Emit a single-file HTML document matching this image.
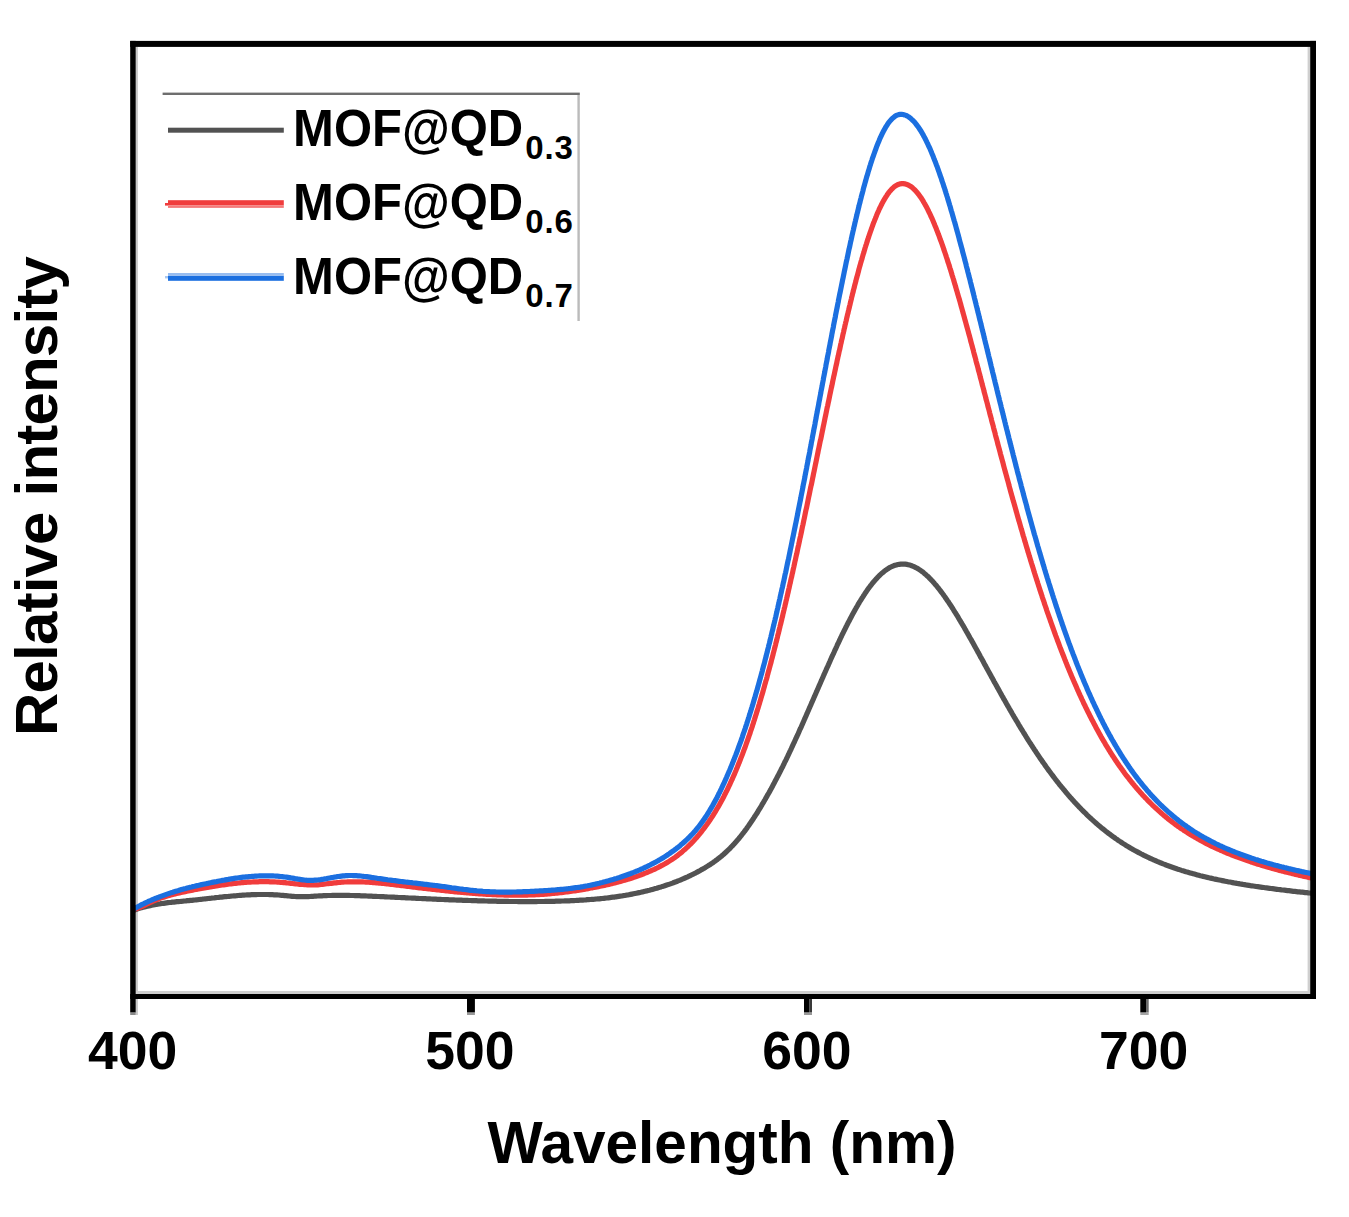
<!DOCTYPE html>
<html><head><meta charset="utf-8">
<style>
html,body{margin:0;padding:0;background:#fff;}
body{width:1349px;height:1217px;overflow:hidden;position:relative;}
svg{position:absolute;left:0;top:0;}
text{font-family:"Liberation Sans",sans-serif;font-weight:bold;fill:#000;}
</style></head>
<body>
<svg width="1349" height="1217" viewBox="0 0 1349 1217">
<rect x="0" y="0" width="1349" height="1217" fill="#fff"/>
<!-- inner light strips -->
<rect x="135.7" y="47" width="2.2" height="968" fill="#c8c8c8"/>
<rect x="1307.6" y="47" width="2.6" height="947" fill="#cfcfcf"/>
<rect x="135.7" y="991" width="1174.5" height="3" fill="#cfcfcf"/>
<!-- curves -->
<g fill="none" stroke-width="5.2" stroke-linejoin="round" stroke-linecap="butt">
<path d="M133.0 910.5 L134.4 910.0 L135.8 909.5 L137.2 909.0 L138.7 908.6 L140.1 908.1 L141.6 907.7 L143.0 907.3 L144.4 906.9 L145.9 906.6 L147.4 906.2 L148.8 905.9 L150.3 905.6 L151.7 905.3 L153.2 905.0 L154.7 904.7 L156.2 904.5 L157.6 904.2 L159.1 904.0 L160.6 903.7 L162.1 903.5 L163.6 903.3 L165.1 903.1 L166.5 902.9 L168.0 902.7 L169.5 902.5 L171.0 902.4 L172.5 902.2 L174.0 902.1 L175.5 901.9 L177.0 901.7 L178.5 901.6 L180.0 901.5 L181.5 901.3 L182.9 901.2 L184.4 901.0 L185.9 900.9 L187.4 900.7 L188.9 900.6 L190.4 900.4 L191.9 900.3 L193.4 900.1 L194.9 900.0 L196.4 899.8 L197.9 899.7 L199.4 899.5 L200.9 899.3 L202.3 899.2 L203.8 899.0 L205.3 898.8 L206.8 898.7 L208.3 898.5 L209.8 898.3 L211.3 898.2 L212.8 898.0 L214.3 897.9 L215.8 897.7 L217.3 897.5 L218.7 897.4 L220.2 897.2 L221.7 897.1 L223.2 896.9 L224.7 896.7 L226.2 896.6 L227.7 896.5 L229.2 896.3 L230.7 896.2 L232.2 896.0 L233.7 895.9 L235.2 895.8 L236.7 895.7 L238.2 895.5 L239.7 895.4 L241.1 895.3 L242.6 895.2 L244.1 895.1 L245.6 895.0 L247.1 894.9 L248.6 894.9 L250.1 894.8 L251.6 894.7 L253.1 894.7 L254.6 894.6 L256.1 894.6 L257.6 894.5 L259.1 894.5 L260.6 894.5 L262.1 894.5 L263.6 894.5 L265.1 894.5 L266.6 894.5 L268.1 894.5 L269.6 894.6 L271.1 894.6 L272.6 894.7 L274.1 894.8 L275.6 894.8 L277.1 894.9 L278.6 895.0 L280.1 895.2 L281.6 895.3 L283.1 895.4 L284.6 895.6 L286.1 895.7 L287.6 895.8 L289.1 896.0 L290.6 896.1 L292.1 896.3 L293.6 896.4 L295.1 896.5 L296.5 896.6 L298.0 896.7 L299.5 896.7 L301.0 896.7 L302.5 896.7 L304.0 896.7 L305.5 896.7 L307.0 896.6 L308.5 896.6 L310.0 896.5 L311.5 896.4 L313.0 896.3 L314.5 896.2 L316.0 896.1 L317.5 896.0 L319.0 895.9 L320.5 895.9 L322.0 895.8 L323.5 895.7 L325.0 895.6 L326.5 895.6 L328.0 895.5 L329.5 895.5 L331.0 895.5 L332.5 895.4 L334.0 895.4 L335.5 895.4 L337.0 895.4 L338.5 895.4 L340.0 895.4 L341.5 895.4 L343.0 895.4 L344.5 895.4 L346.0 895.4 L347.5 895.4 L349.0 895.4 L350.5 895.5 L352.0 895.5 L353.5 895.5 L355.0 895.6 L356.5 895.6 L358.0 895.7 L359.5 895.7 L361.0 895.8 L362.5 895.8 L364.0 895.9 L365.5 895.9 L367.0 896.0 L368.5 896.1 L370.0 896.1 L371.5 896.2 L373.0 896.3 L374.5 896.3 L376.0 896.4 L377.5 896.5 L379.0 896.5 L380.5 896.6 L382.0 896.7 L383.5 896.7 L385.0 896.8 L386.5 896.9 L388.0 897.0 L389.5 897.0 L391.0 897.1 L392.5 897.2 L394.0 897.2 L395.5 897.3 L397.0 897.4 L398.5 897.5 L400.0 897.5 L401.5 897.6 L403.0 897.7 L404.5 897.7 L406.0 897.8 L407.5 897.9 L409.0 898.0 L410.5 898.0 L412.0 898.1 L413.5 898.2 L414.9 898.2 L416.4 898.3 L417.9 898.4 L419.4 898.5 L420.9 898.5 L422.4 898.6 L423.9 898.7 L425.4 898.7 L426.9 898.8 L428.4 898.9 L429.9 898.9 L431.4 899.0 L432.9 899.1 L434.4 899.1 L435.9 899.2 L437.4 899.3 L438.9 899.3 L440.4 899.4 L441.9 899.5 L443.4 899.5 L444.9 899.6 L446.4 899.6 L447.9 899.7 L449.4 899.8 L450.9 899.8 L452.4 899.9 L453.9 899.9 L455.4 900.0 L456.9 900.1 L458.4 900.1 L459.9 900.2 L461.4 900.2 L462.9 900.3 L464.4 900.3 L465.9 900.4 L467.4 900.4 L468.9 900.5 L470.4 900.5 L471.9 900.6 L473.4 900.6 L474.9 900.7 L476.4 900.7 L477.9 900.8 L479.4 900.8 L480.9 900.9 L482.4 900.9 L483.9 900.9 L485.4 901.0 L486.9 901.0 L488.4 901.1 L489.9 901.1 L491.4 901.1 L492.9 901.2 L494.4 901.2 L495.9 901.2 L497.4 901.3 L498.9 901.3 L500.4 901.3 L501.9 901.3 L503.4 901.4 L504.9 901.4 L506.4 901.4 L507.9 901.4 L509.4 901.5 L510.9 901.5 L512.4 901.5 L513.9 901.5 L515.4 901.5 L516.9 901.5 L518.4 901.6 L519.9 901.6 L521.4 901.6 L522.9 901.6 L524.4 901.6 L525.9 901.6 L527.4 901.6 L528.9 901.6 L530.4 901.6 L531.9 901.6 L533.4 901.6 L534.9 901.6 L536.4 901.6 L537.9 901.5 L539.4 901.5 L540.9 901.5 L542.4 901.5 L543.9 901.5 L545.4 901.4 L546.9 901.4 L548.4 901.4 L549.9 901.4 L551.4 901.3 L552.9 901.3 L554.4 901.3 L555.9 901.2 L557.4 901.2 L558.9 901.1 L560.4 901.1 L561.9 901.0 L563.4 901.0 L564.9 900.9 L566.4 900.9 L567.9 900.8 L569.4 900.8 L570.9 900.7 L572.4 900.6 L573.9 900.6 L575.4 900.5 L576.9 900.4 L578.4 900.3 L579.9 900.2 L581.4 900.1 L582.9 900.1 L584.4 900.0 L585.9 899.9 L587.4 899.7 L588.8 899.6 L590.3 899.5 L591.8 899.4 L593.3 899.3 L594.8 899.2 L596.3 899.0 L597.8 898.9 L599.3 898.8 L600.8 898.6 L602.3 898.5 L603.8 898.3 L605.3 898.1 L606.8 898.0 L608.3 897.8 L609.8 897.6 L611.2 897.4 L612.7 897.2 L614.2 897.1 L615.7 896.8 L617.2 896.6 L618.7 896.4 L620.2 896.2 L621.6 896.0 L623.1 895.7 L624.6 895.5 L626.1 895.2 L627.6 895.0 L629.0 894.7 L630.5 894.4 L632.0 894.1 L633.5 893.8 L634.9 893.5 L636.4 893.2 L637.9 892.9 L639.3 892.6 L640.8 892.3 L642.3 891.9 L643.7 891.6 L645.2 891.2 L646.6 890.9 L648.1 890.5 L649.5 890.2 L651.0 889.8 L652.4 889.4 L653.9 889.0 L655.3 888.6 L656.8 888.2 L658.2 887.7 L659.7 887.3 L661.1 886.9 L662.5 886.4 L664.0 886.0 L665.4 885.5 L666.8 885.0 L668.2 884.6 L669.7 884.1 L671.1 883.6 L672.5 883.1 L673.9 882.5 L675.3 882.0 L676.7 881.5 L678.1 880.9 L679.5 880.4 L680.9 879.8 L682.3 879.2 L683.6 878.6 L685.0 878.0 L686.4 877.4 L687.8 876.8 L689.1 876.1 L690.5 875.5 L691.8 874.8 L693.2 874.2 L694.5 873.5 L695.9 872.8 L697.2 872.1 L698.5 871.4 L699.8 870.7 L701.1 869.9 L702.5 869.2 L703.8 868.4 L705.0 867.7 L706.3 866.9 L707.6 866.1 L708.9 865.3 L710.2 864.5 L711.4 863.7 L712.7 862.8 L713.9 861.9 L715.1 861.1 L716.3 860.2 L717.5 859.3 L718.7 858.3 L719.9 857.4 L721.1 856.5 L722.2 855.5 L723.4 854.5 L724.5 853.5 L725.6 852.5 L726.7 851.5 L727.8 850.4 L728.9 849.4 L730.0 848.3 L731.0 847.2 L732.1 846.2 L733.1 845.1 L734.1 844.0 L735.2 842.8 L736.1 841.7 L737.1 840.6 L738.1 839.4 L739.1 838.3 L740.0 837.1 L741.0 835.9 L741.9 834.7 L742.8 833.5 L743.8 832.3 L744.7 831.1 L745.6 829.9 L746.5 828.7 L747.3 827.5 L748.2 826.3 L749.1 825.0 L749.9 823.8 L750.8 822.5 L751.6 821.3 L752.5 820.0 L753.3 818.8 L754.1 817.5 L754.9 816.3 L755.7 815.0 L756.6 813.7 L757.4 812.5 L758.1 811.2 L758.9 809.9 L759.7 808.6 L760.5 807.3 L761.3 806.0 L762.0 804.7 L762.8 803.4 L763.6 802.1 L764.3 800.8 L765.1 799.5 L765.8 798.2 L766.6 796.9 L767.3 795.6 L768.0 794.3 L768.8 793.0 L769.5 791.7 L770.2 790.4 L771.0 789.0 L771.7 787.7 L772.4 786.4 L773.1 785.1 L773.8 783.8 L774.5 782.4 L775.2 781.1 L775.9 779.8 L776.6 778.4 L777.3 777.1 L778.0 775.8 L778.7 774.4 L779.4 773.1 L780.1 771.8 L780.7 770.4 L781.4 769.1 L782.1 767.7 L782.8 766.4 L783.4 765.0 L784.1 763.7 L784.7 762.3 L785.4 761.0 L786.1 759.6 L786.7 758.3 L787.4 756.9 L788.0 755.6 L788.7 754.2 L789.3 752.8 L789.9 751.5 L790.6 750.1 L791.2 748.8 L791.8 747.4 L792.5 746.0 L793.1 744.7 L793.7 743.3 L794.4 742.0 L795.0 740.6 L795.6 739.2 L796.2 737.9 L796.9 736.5 L797.5 735.1 L798.1 733.8 L798.7 732.4 L799.3 731.0 L799.9 729.6 L800.6 728.3 L801.2 726.9 L801.8 725.5 L802.4 724.2 L803.0 722.8 L803.6 721.4 L804.2 720.0 L804.8 718.7 L805.4 717.3 L806.0 715.9 L806.6 714.5 L807.2 713.2 L807.8 711.8 L808.4 710.4 L809.0 709.0 L809.6 707.7 L810.2 706.3 L810.8 704.9 L811.4 703.5 L812.0 702.2 L812.6 700.8 L813.2 699.4 L813.8 698.0 L814.4 696.7 L815.0 695.3 L815.6 693.9 L816.2 692.5 L816.8 691.2 L817.4 689.8 L818.0 688.4 L818.6 687.0 L819.2 685.7 L819.8 684.3 L820.4 682.9 L821.0 681.5 L821.6 680.2 L822.2 678.8 L822.8 677.4 L823.4 676.0 L824.0 674.7 L824.6 673.3 L825.2 671.9 L825.8 670.6 L826.4 669.2 L827.0 667.8 L827.7 666.4 L828.3 665.1 L828.9 663.7 L829.5 662.3 L830.1 661.0 L830.7 659.6 L831.3 658.2 L831.9 656.9 L832.5 655.5 L833.2 654.1 L833.8 652.8 L834.4 651.4 L835.0 650.0 L835.7 648.7 L836.3 647.3 L836.9 646.0 L837.5 644.6 L838.2 643.3 L838.8 641.9 L839.5 640.5 L840.1 639.2 L840.7 637.8 L841.4 636.5 L842.0 635.1 L842.7 633.8 L843.3 632.4 L844.0 631.1 L844.7 629.8 L845.3 628.4 L846.0 627.1 L846.7 625.7 L847.3 624.4 L848.0 623.1 L848.7 621.7 L849.4 620.4 L850.1 619.1 L850.8 617.8 L851.5 616.4 L852.2 615.1 L852.9 613.8 L853.6 612.5 L854.3 611.2 L855.0 609.9 L855.8 608.6 L856.5 607.3 L857.3 606.0 L858.0 604.7 L858.8 603.4 L859.5 602.1 L860.3 600.9 L861.1 599.6 L861.9 598.3 L862.7 597.1 L863.5 595.8 L864.3 594.6 L865.1 593.3 L866.0 592.1 L866.8 590.9 L867.7 589.6 L868.5 588.4 L869.4 587.2 L870.3 586.0 L871.2 584.9 L872.1 583.7 L873.1 582.5 L874.0 581.4 L875.0 580.3 L876.0 579.1 L877.0 578.1 L878.0 577.0 L879.1 575.9 L880.1 574.9 L881.2 573.9 L882.3 572.9 L883.5 571.9 L884.6 571.0 L885.8 570.1 L887.0 569.3 L888.3 568.5 L889.5 567.7 L890.9 567.0 L892.2 566.4 L893.6 565.8 L895.0 565.3 L896.4 564.9 L897.8 564.5 L899.3 564.3 L900.8 564.1 L902.3 564.1 L903.8 564.1 L905.3 564.2 L906.8 564.4 L908.2 564.7 L909.7 565.1 L911.1 565.5 L912.6 566.1 L914.0 566.7 L915.3 567.3 L916.7 568.0 L918.0 568.8 L919.3 569.6 L920.5 570.4 L921.8 571.3 L923.0 572.2 L924.1 573.2 L925.3 574.2 L926.4 575.2 L927.6 576.2 L928.6 577.2 L929.7 578.3 L930.8 579.4 L931.8 580.5 L932.8 581.6 L933.8 582.7 L934.8 583.9 L935.8 585.0 L936.8 586.2 L937.7 587.3 L938.7 588.5 L939.6 589.7 L940.5 590.9 L941.4 592.1 L942.3 593.3 L943.2 594.5 L944.1 595.8 L945.0 597.0 L945.8 598.2 L946.7 599.5 L947.5 600.7 L948.4 601.9 L949.2 603.2 L950.1 604.5 L950.9 605.7 L951.7 607.0 L952.5 608.2 L953.3 609.5 L954.1 610.8 L954.9 612.1 L955.7 613.3 L956.5 614.6 L957.3 615.9 L958.1 617.2 L958.8 618.5 L959.6 619.8 L960.4 621.1 L961.1 622.4 L961.9 623.7 L962.7 624.9 L963.4 626.2 L964.2 627.5 L964.9 628.8 L965.7 630.1 L966.4 631.5 L967.2 632.8 L967.9 634.1 L968.7 635.4 L969.4 636.7 L970.1 638.0 L970.9 639.3 L971.6 640.6 L972.3 641.9 L973.1 643.2 L973.8 644.5 L974.5 645.8 L975.2 647.2 L976.0 648.5 L976.7 649.8 L977.4 651.1 L978.1 652.4 L978.9 653.7 L979.6 655.0 L980.3 656.4 L981.0 657.7 L981.8 659.0 L982.5 660.3 L983.2 661.6 L983.9 662.9 L984.6 664.3 L985.4 665.6 L986.1 666.9 L986.8 668.2 L987.5 669.5 L988.2 670.8 L989.0 672.2 L989.7 673.5 L990.4 674.8 L991.1 676.1 L991.8 677.4 L992.6 678.7 L993.3 680.0 L994.0 681.4 L994.7 682.7 L995.5 684.0 L996.2 685.3 L996.9 686.6 L997.6 687.9 L998.4 689.2 L999.1 690.5 L999.8 691.8 L1000.6 693.2 L1001.3 694.5 L1002.0 695.8 L1002.8 697.1 L1003.5 698.4 L1004.2 699.7 L1005.0 701.0 L1005.7 702.3 L1006.4 703.6 L1007.2 704.9 L1007.9 706.2 L1008.7 707.5 L1009.4 708.8 L1010.2 710.1 L1010.9 711.4 L1011.7 712.7 L1012.4 714.0 L1013.2 715.3 L1013.9 716.6 L1014.7 717.9 L1015.5 719.2 L1016.2 720.4 L1017.0 721.7 L1017.8 723.0 L1018.5 724.3 L1019.3 725.6 L1020.1 726.9 L1020.8 728.1 L1021.6 729.4 L1022.4 730.7 L1023.2 732.0 L1024.0 733.3 L1024.8 734.5 L1025.6 735.8 L1026.3 737.1 L1027.1 738.3 L1027.9 739.6 L1028.7 740.9 L1029.5 742.1 L1030.4 743.4 L1031.2 744.7 L1032.0 745.9 L1032.8 747.2 L1033.6 748.4 L1034.4 749.7 L1035.3 750.9 L1036.1 752.2 L1036.9 753.4 L1037.8 754.7 L1038.6 755.9 L1039.4 757.1 L1040.3 758.4 L1041.1 759.6 L1042.0 760.8 L1042.8 762.1 L1043.7 763.3 L1044.6 764.5 L1045.4 765.7 L1046.3 767.0 L1047.2 768.2 L1048.0 769.4 L1048.9 770.6 L1049.8 771.8 L1050.7 773.0 L1051.6 774.2 L1052.5 775.4 L1053.4 776.6 L1054.3 777.8 L1055.2 779.0 L1056.1 780.2 L1057.0 781.3 L1058.0 782.5 L1058.9 783.7 L1059.8 784.9 L1060.8 786.0 L1061.7 787.2 L1062.7 788.3 L1063.6 789.5 L1064.6 790.6 L1065.5 791.8 L1066.5 792.9 L1067.5 794.1 L1068.4 795.2 L1069.4 796.3 L1070.4 797.5 L1071.4 798.6 L1072.4 799.7 L1073.4 800.8 L1074.4 801.9 L1075.4 803.0 L1076.4 804.1 L1077.5 805.2 L1078.5 806.3 L1079.5 807.4 L1080.6 808.4 L1081.6 809.5 L1082.7 810.6 L1083.7 811.6 L1084.8 812.7 L1085.9 813.7 L1086.9 814.8 L1088.0 815.8 L1089.1 816.8 L1090.2 817.8 L1091.3 818.9 L1092.4 819.9 L1093.5 820.9 L1094.6 821.9 L1095.7 822.9 L1096.9 823.8 L1098.0 824.8 L1099.1 825.8 L1100.3 826.8 L1101.4 827.7 L1102.6 828.7 L1103.8 829.6 L1104.9 830.5 L1106.1 831.5 L1107.3 832.4 L1108.5 833.3 L1109.7 834.2 L1110.9 835.1 L1112.1 836.0 L1113.3 836.8 L1114.5 837.7 L1115.7 838.6 L1117.0 839.4 L1118.2 840.3 L1119.4 841.1 L1120.7 841.9 L1121.9 842.8 L1123.2 843.6 L1124.5 844.4 L1125.7 845.2 L1127.0 846.0 L1128.3 846.7 L1129.6 847.5 L1130.8 848.3 L1132.1 849.0 L1133.4 849.8 L1134.7 850.5 L1136.1 851.2 L1137.4 851.9 L1138.7 852.6 L1140.0 853.3 L1141.3 854.0 L1142.7 854.7 L1144.0 855.4 L1145.4 856.0 L1146.7 856.7 L1148.1 857.3 L1149.4 858.0 L1150.8 858.6 L1152.1 859.2 L1153.5 859.8 L1154.9 860.4 L1156.3 861.0 L1157.6 861.6 L1159.0 862.2 L1160.4 862.8 L1161.8 863.3 L1163.2 863.9 L1164.6 864.4 L1166.0 865.0 L1167.4 865.5 L1168.8 866.0 L1170.2 866.5 L1171.6 867.0 L1173.0 867.5 L1174.4 868.0 L1175.9 868.5 L1177.3 869.0 L1178.7 869.4 L1180.1 869.9 L1181.6 870.4 L1183.0 870.8 L1184.4 871.2 L1185.9 871.7 L1187.3 872.1 L1188.7 872.5 L1190.2 872.9 L1191.6 873.3 L1193.1 873.7 L1194.5 874.1 L1195.9 874.5 L1197.4 874.9 L1198.8 875.3 L1200.3 875.7 L1201.8 876.0 L1203.2 876.4 L1204.7 876.7 L1206.1 877.1 L1207.6 877.4 L1209.0 877.8 L1210.5 878.1 L1212.0 878.4 L1213.4 878.8 L1214.9 879.1 L1216.4 879.4 L1217.8 879.7 L1219.3 880.0 L1220.8 880.3 L1222.2 880.6 L1223.7 880.9 L1225.2 881.2 L1226.7 881.5 L1228.1 881.8 L1229.6 882.0 L1231.1 882.3 L1232.5 882.6 L1234.0 882.9 L1235.5 883.1 L1237.0 883.4 L1238.5 883.6 L1239.9 883.9 L1241.4 884.1 L1242.9 884.4 L1244.4 884.6 L1245.9 884.9 L1247.3 885.1 L1248.8 885.3 L1250.3 885.6 L1251.8 885.8 L1253.3 886.0 L1254.7 886.2 L1256.2 886.5 L1257.7 886.7 L1259.2 886.9 L1260.7 887.1 L1262.2 887.3 L1263.7 887.5 L1265.1 887.7 L1266.6 887.9 L1268.1 888.1 L1269.6 888.3 L1271.1 888.5 L1272.6 888.7 L1274.1 888.9 L1275.5 889.1 L1277.0 889.3 L1278.5 889.5 L1280.0 889.7 L1281.5 889.9 L1283.0 890.0 L1284.5 890.2 L1286.0 890.4 L1287.5 890.6 L1288.9 890.7 L1290.4 890.9 L1291.9 891.1 L1293.4 891.3 L1294.9 891.4 L1296.4 891.6 L1297.9 891.8 L1299.4 891.9 L1300.9 892.1 L1302.4 892.2 L1303.9 892.4 L1305.3 892.6 L1306.8 892.7 L1308.3 892.9 L1309.8 893.0 L1311.3 893.2 L1312.0 893.2" stroke="#525252"/>
<path d="M133.0 909.5 L134.5 909.2 L135.9 908.8 L137.4 908.4 L138.8 907.8 L140.2 907.3 L141.6 906.7 L142.9 906.0 L144.3 905.4 L145.6 904.7 L147.0 904.0 L148.3 903.4 L149.7 902.7 L151.0 902.1 L152.4 901.5 L153.7 900.9 L155.1 900.3 L156.5 899.7 L157.9 899.2 L159.3 898.6 L160.7 898.1 L162.1 897.6 L163.5 897.2 L165.0 896.7 L166.4 896.3 L167.8 895.8 L169.3 895.4 L170.7 895.0 L172.2 894.6 L173.6 894.3 L175.1 893.9 L176.5 893.5 L178.0 893.2 L179.4 892.9 L180.9 892.5 L182.4 892.2 L183.8 891.9 L185.3 891.6 L186.8 891.3 L188.2 891.0 L189.7 890.7 L191.2 890.4 L192.7 890.1 L194.1 889.8 L195.6 889.5 L197.1 889.3 L198.5 889.0 L200.0 888.7 L201.5 888.4 L203.0 888.2 L204.4 887.9 L205.9 887.6 L207.4 887.4 L208.9 887.1 L210.4 886.9 L211.8 886.6 L213.3 886.4 L214.8 886.1 L216.3 885.9 L217.8 885.6 L219.2 885.4 L220.7 885.2 L222.2 885.0 L223.7 884.8 L225.2 884.6 L226.7 884.4 L228.1 884.2 L229.6 884.0 L231.1 883.8 L232.6 883.6 L234.1 883.4 L235.6 883.3 L237.1 883.1 L238.6 883.0 L240.1 882.8 L241.6 882.7 L243.1 882.6 L244.5 882.5 L246.0 882.3 L247.5 882.2 L249.0 882.1 L250.5 882.1 L252.0 882.0 L253.5 881.9 L255.0 881.8 L256.5 881.8 L258.0 881.8 L259.5 881.7 L261.0 881.7 L262.5 881.7 L264.0 881.7 L265.5 881.7 L267.0 881.7 L268.5 881.7 L270.0 881.8 L271.5 881.8 L273.0 881.9 L274.5 881.9 L276.0 882.0 L277.5 882.1 L279.0 882.2 L280.5 882.3 L282.0 882.5 L283.5 882.6 L285.0 882.7 L286.5 882.9 L288.0 883.0 L289.5 883.2 L291.0 883.4 L292.5 883.5 L293.9 883.7 L295.4 883.8 L296.9 884.0 L298.4 884.1 L299.9 884.3 L301.4 884.4 L302.9 884.5 L304.4 884.6 L305.9 884.7 L307.4 884.8 L308.9 884.8 L310.4 884.9 L311.9 884.9 L313.4 884.9 L314.9 884.9 L316.4 884.8 L317.9 884.8 L319.4 884.7 L320.9 884.5 L322.4 884.4 L323.9 884.2 L325.4 884.0 L326.8 883.8 L328.3 883.6 L329.8 883.4 L331.3 883.3 L332.8 883.1 L334.3 882.9 L335.8 882.8 L337.3 882.6 L338.8 882.5 L340.3 882.3 L341.8 882.2 L343.2 882.1 L344.7 882.0 L346.2 882.0 L347.7 881.9 L349.2 881.8 L350.7 881.8 L352.2 881.8 L353.7 881.8 L355.2 881.8 L356.7 881.8 L358.2 881.8 L359.7 881.8 L361.2 881.9 L362.7 881.9 L364.2 882.0 L365.7 882.1 L367.2 882.1 L368.7 882.2 L370.2 882.3 L371.7 882.4 L373.2 882.6 L374.7 882.7 L376.2 882.8 L377.7 882.9 L379.2 883.1 L380.7 883.2 L382.2 883.4 L383.7 883.5 L385.2 883.7 L386.7 883.8 L388.2 884.0 L389.6 884.2 L391.1 884.4 L392.6 884.5 L394.1 884.7 L395.6 884.9 L397.1 885.1 L398.6 885.2 L400.1 885.4 L401.6 885.6 L403.0 885.8 L404.5 886.0 L406.0 886.1 L407.5 886.3 L409.0 886.5 L410.5 886.7 L412.0 886.9 L413.5 887.1 L415.0 887.2 L416.4 887.4 L417.9 887.6 L419.4 887.8 L420.9 888.0 L422.4 888.1 L423.9 888.3 L425.4 888.5 L426.9 888.7 L428.4 888.8 L429.9 889.0 L431.3 889.2 L432.8 889.4 L434.3 889.5 L435.8 889.7 L437.3 889.9 L438.8 890.0 L440.3 890.2 L441.8 890.4 L443.3 890.5 L444.8 890.7 L446.2 890.9 L447.7 891.0 L449.2 891.2 L450.7 891.3 L452.2 891.5 L453.7 891.6 L455.2 891.8 L456.7 891.9 L458.2 892.1 L459.7 892.2 L461.2 892.3 L462.7 892.5 L464.2 892.6 L465.7 892.7 L467.1 892.9 L468.6 893.0 L470.1 893.1 L471.6 893.2 L473.1 893.4 L474.6 893.5 L476.1 893.6 L477.6 893.7 L479.1 893.8 L480.6 893.9 L482.1 894.0 L483.6 894.1 L485.1 894.2 L486.6 894.3 L488.1 894.4 L489.6 894.5 L491.1 894.5 L492.6 894.6 L494.1 894.7 L495.6 894.7 L497.1 894.8 L498.6 894.9 L500.1 894.9 L501.6 895.0 L503.1 895.0 L504.6 895.1 L506.1 895.1 L507.6 895.1 L509.1 895.1 L510.6 895.2 L512.1 895.2 L513.6 895.2 L515.1 895.2 L516.6 895.2 L518.1 895.2 L519.6 895.2 L521.1 895.2 L522.6 895.2 L524.1 895.1 L525.6 895.1 L527.1 895.1 L528.6 895.0 L530.1 895.0 L531.6 894.9 L533.1 894.9 L534.6 894.8 L536.1 894.7 L537.6 894.7 L539.1 894.6 L540.6 894.5 L542.1 894.4 L543.6 894.3 L545.1 894.2 L546.5 894.1 L548.0 893.9 L549.5 893.8 L551.0 893.7 L552.5 893.5 L554.0 893.4 L555.5 893.2 L557.0 893.1 L558.5 892.9 L560.0 892.7 L561.5 892.6 L563.0 892.4 L564.5 892.2 L565.9 892.0 L567.4 891.8 L568.9 891.6 L570.4 891.4 L571.9 891.2 L573.4 891.0 L574.9 890.8 L576.3 890.6 L577.8 890.3 L579.3 890.1 L580.8 889.9 L582.3 889.6 L583.7 889.4 L585.2 889.1 L586.7 888.8 L588.2 888.6 L589.7 888.3 L591.1 888.0 L592.6 887.8 L594.1 887.5 L595.6 887.2 L597.0 886.9 L598.5 886.6 L600.0 886.3 L601.4 886.0 L602.9 885.7 L604.4 885.4 L605.8 885.0 L607.3 884.7 L608.8 884.4 L610.2 884.0 L611.7 883.7 L613.1 883.3 L614.6 882.9 L616.0 882.6 L617.5 882.2 L619.0 881.8 L620.4 881.4 L621.8 881.0 L623.3 880.6 L624.7 880.2 L626.2 879.8 L627.6 879.3 L629.0 878.9 L630.5 878.5 L631.9 878.0 L633.3 877.5 L634.8 877.1 L636.2 876.6 L637.6 876.1 L639.0 875.6 L640.4 875.1 L641.8 874.5 L643.2 874.0 L644.6 873.4 L646.0 872.9 L647.4 872.3 L648.8 871.7 L650.2 871.1 L651.6 870.5 L652.9 869.9 L654.3 869.3 L655.7 868.6 L657.0 868.0 L658.4 867.3 L659.7 866.6 L661.0 865.9 L662.4 865.2 L663.7 864.5 L665.0 863.8 L666.3 863.0 L667.6 862.2 L668.9 861.4 L670.1 860.6 L671.4 859.8 L672.7 859.0 L673.9 858.1 L675.1 857.3 L676.3 856.4 L677.6 855.5 L678.7 854.6 L679.9 853.6 L681.1 852.7 L682.3 851.7 L683.4 850.7 L684.5 849.7 L685.7 848.7 L686.8 847.7 L687.9 846.7 L688.9 845.6 L690.0 844.5 L691.1 843.5 L692.1 842.4 L693.2 841.3 L694.2 840.2 L695.2 839.1 L696.2 838.0 L697.2 836.8 L698.2 835.7 L699.1 834.5 L700.1 833.3 L701.1 832.2 L702.0 831.0 L702.9 829.8 L703.8 828.6 L704.7 827.4 L705.6 826.2 L706.5 825.0 L707.4 823.7 L708.3 822.5 L709.1 821.3 L710.0 820.0 L710.8 818.8 L711.6 817.5 L712.5 816.2 L713.3 815.0 L714.1 813.7 L714.9 812.4 L715.7 811.1 L716.4 809.8 L717.2 808.5 L718.0 807.2 L718.7 805.9 L719.5 804.6 L720.2 803.3 L720.9 802.0 L721.6 800.6 L722.4 799.3 L723.1 798.0 L723.8 796.6 L724.4 795.3 L725.1 794.0 L725.8 792.6 L726.5 791.3 L727.2 789.9 L727.8 788.6 L728.5 787.2 L729.1 785.8 L729.8 784.5 L730.4 783.1 L731.0 781.7 L731.6 780.4 L732.3 779.0 L732.9 777.6 L733.5 776.2 L734.1 774.9 L734.7 773.5 L735.3 772.1 L735.9 770.7 L736.4 769.3 L737.0 767.9 L737.6 766.5 L738.2 765.1 L738.7 763.7 L739.3 762.4 L739.8 761.0 L740.4 759.5 L740.9 758.1 L741.5 756.7 L742.0 755.3 L742.6 753.9 L743.1 752.5 L743.6 751.1 L744.1 749.7 L744.7 748.3 L745.2 746.9 L745.7 745.5 L746.2 744.0 L746.7 742.6 L747.2 741.2 L747.7 739.8 L748.2 738.4 L748.7 736.9 L749.2 735.5 L749.7 734.1 L750.2 732.7 L750.6 731.2 L751.1 729.8 L751.6 728.4 L752.1 727.0 L752.5 725.5 L753.0 724.1 L753.5 722.7 L753.9 721.2 L754.4 719.8 L754.8 718.4 L755.3 716.9 L755.7 715.5 L756.2 714.1 L756.6 712.6 L757.1 711.2 L757.5 709.8 L758.0 708.3 L758.4 706.9 L758.8 705.5 L759.3 704.0 L759.7 702.6 L760.1 701.1 L760.6 699.7 L761.0 698.2 L761.4 696.8 L761.8 695.4 L762.3 693.9 L762.7 692.5 L763.1 691.0 L763.5 689.6 L763.9 688.1 L764.3 686.7 L764.7 685.2 L765.1 683.8 L765.5 682.3 L765.9 680.9 L766.4 679.5 L766.8 678.0 L767.2 676.6 L767.5 675.1 L767.9 673.7 L768.3 672.2 L768.7 670.8 L769.1 669.3 L769.5 667.9 L769.9 666.4 L770.3 664.9 L770.7 663.5 L771.1 662.0 L771.4 660.6 L771.8 659.1 L772.2 657.7 L772.6 656.2 L773.0 654.8 L773.3 653.3 L773.7 651.9 L774.1 650.4 L774.4 649.0 L774.8 647.5 L775.2 646.0 L775.6 644.6 L775.9 643.1 L776.3 641.7 L776.7 640.2 L777.0 638.8 L777.4 637.3 L777.7 635.8 L778.1 634.4 L778.5 632.9 L778.8 631.5 L779.2 630.0 L779.5 628.5 L779.9 627.1 L780.2 625.6 L780.6 624.2 L781.0 622.7 L781.3 621.2 L781.7 619.8 L782.0 618.3 L782.4 616.9 L782.7 615.4 L783.0 613.9 L783.4 612.5 L783.7 611.0 L784.1 609.6 L784.4 608.1 L784.8 606.6 L785.1 605.2 L785.5 603.7 L785.8 602.2 L786.1 600.8 L786.5 599.3 L786.8 597.9 L787.2 596.4 L787.5 594.9 L787.8 593.5 L788.2 592.0 L788.5 590.5 L788.8 589.1 L789.2 587.6 L789.5 586.1 L789.8 584.7 L790.2 583.2 L790.5 581.8 L790.8 580.3 L791.1 578.8 L791.5 577.4 L791.8 575.9 L792.1 574.4 L792.5 573.0 L792.8 571.5 L793.1 570.0 L793.4 568.6 L793.8 567.1 L794.1 565.6 L794.4 564.2 L794.7 562.7 L795.0 561.2 L795.4 559.8 L795.7 558.3 L796.0 556.8 L796.3 555.4 L796.7 553.9 L797.0 552.4 L797.3 551.0 L797.6 549.5 L797.9 548.0 L798.2 546.6 L798.6 545.1 L798.9 543.6 L799.2 542.2 L799.5 540.7 L799.8 539.2 L800.1 537.8 L800.5 536.3 L800.8 534.8 L801.1 533.4 L801.4 531.9 L801.7 530.4 L802.0 529.0 L802.3 527.5 L802.6 526.0 L803.0 524.6 L803.3 523.1 L803.6 521.6 L803.9 520.1 L804.2 518.7 L804.5 517.2 L804.8 515.7 L805.1 514.3 L805.4 512.8 L805.7 511.3 L806.0 509.9 L806.4 508.4 L806.7 506.9 L807.0 505.5 L807.3 504.0 L807.6 502.5 L807.9 501.1 L808.2 499.6 L808.5 498.1 L808.8 496.6 L809.1 495.2 L809.4 493.7 L809.7 492.2 L810.0 490.8 L810.3 489.3 L810.6 487.8 L810.9 486.4 L811.3 484.9 L811.6 483.4 L811.9 482.0 L812.2 480.5 L812.5 479.0 L812.8 477.5 L813.1 476.1 L813.4 474.6 L813.7 473.1 L814.0 471.7 L814.3 470.2 L814.6 468.7 L814.9 467.3 L815.2 465.8 L815.5 464.3 L815.8 462.9 L816.1 461.4 L816.4 459.9 L816.7 458.4 L817.0 457.0 L817.3 455.5 L817.6 454.0 L817.9 452.6 L818.2 451.1 L818.5 449.6 L818.8 448.2 L819.1 446.7 L819.4 445.2 L819.7 443.8 L820.0 442.3 L820.3 440.8 L820.7 439.4 L821.0 437.9 L821.3 436.4 L821.6 434.9 L821.9 433.5 L822.2 432.0 L822.5 430.5 L822.8 429.1 L823.1 427.6 L823.4 426.1 L823.7 424.7 L824.0 423.2 L824.3 421.7 L824.6 420.3 L824.9 418.8 L825.2 417.3 L825.5 415.9 L825.8 414.4 L826.1 412.9 L826.4 411.4 L826.7 410.0 L827.0 408.5 L827.3 407.0 L827.7 405.6 L828.0 404.1 L828.3 402.6 L828.6 401.2 L828.9 399.7 L829.2 398.2 L829.5 396.8 L829.8 395.3 L830.1 393.8 L830.4 392.4 L830.7 390.9 L831.0 389.4 L831.3 388.0 L831.7 386.5 L832.0 385.0 L832.3 383.6 L832.6 382.1 L832.9 380.6 L833.2 379.2 L833.5 377.7 L833.8 376.2 L834.2 374.8 L834.5 373.3 L834.8 371.8 L835.1 370.4 L835.4 368.9 L835.7 367.4 L836.0 366.0 L836.4 364.5 L836.7 363.1 L837.0 361.6 L837.3 360.1 L837.6 358.7 L837.9 357.2 L838.3 355.7 L838.6 354.3 L838.9 352.8 L839.2 351.3 L839.6 349.9 L839.9 348.4 L840.2 346.9 L840.5 345.5 L840.8 344.0 L841.2 342.6 L841.5 341.1 L841.8 339.6 L842.2 338.2 L842.5 336.7 L842.8 335.3 L843.1 333.8 L843.5 332.3 L843.8 330.9 L844.1 329.4 L844.5 327.9 L844.8 326.5 L845.1 325.0 L845.5 323.6 L845.8 322.1 L846.2 320.6 L846.5 319.2 L846.8 317.7 L847.2 316.3 L847.5 314.8 L847.9 313.4 L848.2 311.9 L848.6 310.4 L848.9 309.0 L849.3 307.5 L849.6 306.1 L850.0 304.6 L850.3 303.2 L850.7 301.7 L851.0 300.3 L851.4 298.8 L851.7 297.3 L852.1 295.9 L852.4 294.4 L852.8 293.0 L853.2 291.5 L853.5 290.1 L853.9 288.6 L854.3 287.2 L854.6 285.7 L855.0 284.3 L855.4 282.8 L855.8 281.4 L856.1 279.9 L856.5 278.5 L856.9 277.0 L857.3 275.6 L857.7 274.2 L858.1 272.7 L858.5 271.3 L858.8 269.8 L859.2 268.4 L859.6 266.9 L860.0 265.5 L860.4 264.1 L860.8 262.6 L861.2 261.2 L861.7 259.7 L862.1 258.3 L862.5 256.9 L862.9 255.4 L863.3 254.0 L863.8 252.6 L864.2 251.1 L864.6 249.7 L865.0 248.3 L865.5 246.8 L865.9 245.4 L866.4 244.0 L866.8 242.6 L867.3 241.2 L867.7 239.7 L868.2 238.3 L868.7 236.9 L869.1 235.5 L869.6 234.1 L870.1 232.7 L870.6 231.2 L871.1 229.8 L871.6 228.4 L872.1 227.0 L872.6 225.6 L873.1 224.2 L873.6 222.8 L874.2 221.4 L874.7 220.1 L875.3 218.7 L875.8 217.3 L876.4 215.9 L876.9 214.5 L877.5 213.2 L878.1 211.8 L878.7 210.5 L879.3 209.1 L880.0 207.8 L880.6 206.4 L881.3 205.1 L881.9 203.8 L882.6 202.5 L883.3 201.2 L884.1 199.9 L884.8 198.6 L885.6 197.3 L886.4 196.1 L887.2 194.8 L888.0 193.6 L888.9 192.5 L889.8 191.3 L890.8 190.2 L891.8 189.1 L892.8 188.1 L893.9 187.1 L895.0 186.2 L896.3 185.4 L897.5 184.7 L898.9 184.2 L900.3 183.8 L901.8 183.6 L903.3 183.6 L904.8 183.8 L906.2 184.2 L907.7 184.7 L909.0 185.4 L910.4 186.2 L911.6 187.1 L912.8 188.1 L913.9 189.1 L915.0 190.2 L916.1 191.3 L917.1 192.5 L918.0 193.6 L919.0 194.9 L919.8 196.1 L920.7 197.3 L921.6 198.6 L922.4 199.9 L923.2 201.2 L923.9 202.5 L924.7 203.8 L925.4 205.1 L926.2 206.5 L926.9 207.8 L927.6 209.2 L928.2 210.5 L928.9 211.9 L929.6 213.2 L930.2 214.6 L930.8 216.0 L931.5 217.4 L932.1 218.7 L932.7 220.1 L933.3 221.5 L933.9 222.9 L934.5 224.3 L935.0 225.7 L935.6 227.1 L936.2 228.5 L936.7 229.9 L937.3 231.3 L937.8 232.7 L938.3 234.1 L938.9 235.5 L939.4 236.9 L939.9 238.3 L940.4 239.8 L941.0 241.2 L941.5 242.6 L942.0 244.0 L942.5 245.4 L943.0 246.8 L943.5 248.3 L943.9 249.7 L944.4 251.1 L944.9 252.5 L945.4 254.0 L945.9 255.4 L946.3 256.8 L946.8 258.3 L947.3 259.7 L947.7 261.1 L948.2 262.6 L948.7 264.0 L949.1 265.4 L949.6 266.9 L950.0 268.3 L950.5 269.7 L950.9 271.2 L951.4 272.6 L951.8 274.0 L952.2 275.5 L952.7 276.9 L953.1 278.3 L953.6 279.8 L954.0 281.2 L954.4 282.7 L954.8 284.1 L955.3 285.5 L955.7 287.0 L956.1 288.4 L956.5 289.9 L957.0 291.3 L957.4 292.8 L957.8 294.2 L958.2 295.6 L958.6 297.1 L959.1 298.5 L959.5 300.0 L959.9 301.4 L960.3 302.9 L960.7 304.3 L961.1 305.8 L961.5 307.2 L961.9 308.6 L962.3 310.1 L962.7 311.5 L963.1 313.0 L963.5 314.4 L963.9 315.9 L964.3 317.3 L964.7 318.8 L965.1 320.2 L965.5 321.7 L965.9 323.1 L966.3 324.6 L966.7 326.0 L967.1 327.5 L967.5 328.9 L967.9 330.4 L968.3 331.8 L968.7 333.3 L969.1 334.7 L969.5 336.2 L969.9 337.6 L970.3 339.1 L970.6 340.5 L971.0 342.0 L971.4 343.4 L971.8 344.9 L972.2 346.3 L972.6 347.8 L973.0 349.2 L973.4 350.7 L973.7 352.1 L974.1 353.6 L974.5 355.0 L974.9 356.5 L975.3 357.9 L975.7 359.4 L976.0 360.8 L976.4 362.3 L976.8 363.7 L977.2 365.2 L977.6 366.6 L978.0 368.1 L978.3 369.5 L978.7 371.0 L979.1 372.4 L979.5 373.9 L979.9 375.3 L980.2 376.8 L980.6 378.2 L981.0 379.7 L981.4 381.1 L981.8 382.6 L982.1 384.0 L982.5 385.5 L982.9 386.9 L983.3 388.4 L983.7 389.8 L984.0 391.3 L984.4 392.7 L984.8 394.2 L985.2 395.6 L985.6 397.1 L985.9 398.5 L986.3 400.0 L986.7 401.4 L987.1 402.9 L987.5 404.3 L987.8 405.8 L988.2 407.2 L988.6 408.7 L989.0 410.1 L989.4 411.6 L989.7 413.1 L990.1 414.5 L990.5 416.0 L990.9 417.4 L991.3 418.9 L991.6 420.3 L992.0 421.8 L992.4 423.2 L992.8 424.7 L993.2 426.1 L993.5 427.6 L993.9 429.0 L994.3 430.5 L994.7 431.9 L995.1 433.4 L995.4 434.8 L995.8 436.3 L996.2 437.7 L996.6 439.2 L997.0 440.6 L997.4 442.1 L997.7 443.5 L998.1 445.0 L998.5 446.4 L998.9 447.9 L999.3 449.3 L999.7 450.8 L1000.1 452.2 L1000.4 453.6 L1000.8 455.1 L1001.2 456.5 L1001.6 458.0 L1002.0 459.4 L1002.4 460.9 L1002.8 462.3 L1003.2 463.8 L1003.5 465.2 L1003.9 466.7 L1004.3 468.1 L1004.7 469.6 L1005.1 471.0 L1005.5 472.5 L1005.9 473.9 L1006.3 475.4 L1006.7 476.8 L1007.1 478.3 L1007.5 479.7 L1007.9 481.1 L1008.3 482.6 L1008.7 484.0 L1009.0 485.5 L1009.4 486.9 L1009.8 488.4 L1010.2 489.8 L1010.6 491.3 L1011.0 492.7 L1011.4 494.2 L1011.8 495.6 L1012.2 497.0 L1012.6 498.5 L1013.0 499.9 L1013.4 501.4 L1013.9 502.8 L1014.3 504.3 L1014.7 505.7 L1015.1 507.1 L1015.5 508.6 L1015.9 510.0 L1016.3 511.5 L1016.7 512.9 L1017.1 514.4 L1017.5 515.8 L1017.9 517.2 L1018.3 518.7 L1018.7 520.1 L1019.2 521.6 L1019.6 523.0 L1020.0 524.4 L1020.4 525.9 L1020.8 527.3 L1021.2 528.8 L1021.7 530.2 L1022.1 531.6 L1022.5 533.1 L1022.9 534.5 L1023.3 536.0 L1023.8 537.4 L1024.2 538.8 L1024.6 540.3 L1025.0 541.7 L1025.5 543.1 L1025.9 544.6 L1026.3 546.0 L1026.7 547.4 L1027.2 548.9 L1027.6 550.3 L1028.0 551.8 L1028.5 553.2 L1028.9 554.6 L1029.3 556.1 L1029.8 557.5 L1030.2 558.9 L1030.6 560.4 L1031.1 561.8 L1031.5 563.2 L1032.0 564.7 L1032.4 566.1 L1032.9 567.5 L1033.3 568.9 L1033.7 570.4 L1034.2 571.8 L1034.6 573.2 L1035.1 574.7 L1035.5 576.1 L1036.0 577.5 L1036.4 578.9 L1036.9 580.4 L1037.4 581.8 L1037.8 583.2 L1038.3 584.7 L1038.7 586.1 L1039.2 587.5 L1039.6 588.9 L1040.1 590.4 L1040.6 591.8 L1041.0 593.2 L1041.5 594.6 L1042.0 596.0 L1042.4 597.5 L1042.9 598.9 L1043.4 600.3 L1043.9 601.7 L1044.3 603.2 L1044.8 604.6 L1045.3 606.0 L1045.8 607.4 L1046.3 608.8 L1046.7 610.2 L1047.2 611.7 L1047.7 613.1 L1048.2 614.5 L1048.7 615.9 L1049.2 617.3 L1049.7 618.7 L1050.2 620.1 L1050.7 621.6 L1051.2 623.0 L1051.7 624.4 L1052.2 625.8 L1052.7 627.2 L1053.2 628.6 L1053.7 630.0 L1054.2 631.4 L1054.7 632.8 L1055.2 634.2 L1055.7 635.6 L1056.3 637.1 L1056.8 638.5 L1057.3 639.9 L1057.8 641.3 L1058.4 642.7 L1058.9 644.1 L1059.4 645.5 L1059.9 646.9 L1060.5 648.3 L1061.0 649.7 L1061.5 651.1 L1062.1 652.5 L1062.6 653.9 L1063.2 655.2 L1063.7 656.6 L1064.3 658.0 L1064.8 659.4 L1065.4 660.8 L1065.9 662.2 L1066.5 663.6 L1067.0 665.0 L1067.6 666.4 L1068.2 667.8 L1068.7 669.1 L1069.3 670.5 L1069.9 671.9 L1070.5 673.3 L1071.0 674.7 L1071.6 676.0 L1072.2 677.4 L1072.8 678.8 L1073.4 680.2 L1074.0 681.6 L1074.6 682.9 L1075.2 684.3 L1075.8 685.7 L1076.4 687.0 L1077.0 688.4 L1077.6 689.8 L1078.2 691.1 L1078.8 692.5 L1079.4 693.9 L1080.0 695.2 L1080.7 696.6 L1081.3 697.9 L1081.9 699.3 L1082.6 700.7 L1083.2 702.0 L1083.8 703.4 L1084.5 704.7 L1085.1 706.1 L1085.8 707.4 L1086.4 708.8 L1087.1 710.1 L1087.7 711.4 L1088.4 712.8 L1089.1 714.1 L1089.8 715.5 L1090.4 716.8 L1091.1 718.1 L1091.8 719.5 L1092.5 720.8 L1093.2 722.1 L1093.9 723.4 L1094.6 724.8 L1095.3 726.1 L1096.0 727.4 L1096.7 728.7 L1097.4 730.0 L1098.1 731.3 L1098.8 732.6 L1099.6 734.0 L1100.3 735.3 L1101.0 736.6 L1101.8 737.9 L1102.5 739.2 L1103.3 740.4 L1104.0 741.7 L1104.8 743.0 L1105.5 744.3 L1106.3 745.6 L1107.1 746.9 L1107.9 748.2 L1108.7 749.4 L1109.4 750.7 L1110.2 752.0 L1111.0 753.2 L1111.8 754.5 L1112.6 755.7 L1113.5 757.0 L1114.3 758.3 L1115.1 759.5 L1115.9 760.7 L1116.8 762.0 L1117.6 763.2 L1118.5 764.5 L1119.3 765.7 L1120.2 766.9 L1121.0 768.1 L1121.9 769.3 L1122.8 770.6 L1123.7 771.8 L1124.5 773.0 L1125.4 774.2 L1126.3 775.4 L1127.2 776.5 L1128.2 777.7 L1129.1 778.9 L1130.0 780.1 L1130.9 781.3 L1131.9 782.4 L1132.8 783.6 L1133.7 784.7 L1134.7 785.9 L1135.7 787.0 L1136.6 788.2 L1137.6 789.3 L1138.6 790.4 L1139.6 791.6 L1140.6 792.7 L1141.6 793.8 L1142.6 794.9 L1143.6 796.0 L1144.6 797.1 L1145.6 798.2 L1146.7 799.2 L1147.7 800.3 L1148.8 801.4 L1149.8 802.4 L1150.9 803.5 L1151.9 804.5 L1153.0 805.6 L1154.1 806.6 L1155.2 807.6 L1156.3 808.7 L1157.4 809.7 L1158.5 810.7 L1159.6 811.7 L1160.7 812.7 L1161.9 813.6 L1163.0 814.6 L1164.1 815.6 L1165.3 816.5 L1166.4 817.5 L1167.6 818.4 L1168.8 819.4 L1170.0 820.3 L1171.1 821.2 L1172.3 822.1 L1173.5 823.0 L1174.7 823.9 L1175.9 824.8 L1177.1 825.7 L1178.3 826.6 L1179.6 827.4 L1180.8 828.3 L1182.0 829.1 L1183.3 829.9 L1184.5 830.8 L1185.8 831.6 L1187.0 832.4 L1188.3 833.2 L1189.6 834.0 L1190.8 834.8 L1192.1 835.6 L1193.4 836.3 L1194.7 837.1 L1196.0 837.8 L1197.3 838.6 L1198.6 839.3 L1199.9 840.1 L1201.2 840.8 L1202.5 841.5 L1203.9 842.2 L1205.2 842.9 L1206.5 843.6 L1207.8 844.3 L1209.2 844.9 L1210.5 845.6 L1211.9 846.3 L1213.2 846.9 L1214.6 847.5 L1215.9 848.2 L1217.3 848.8 L1218.7 849.4 L1220.0 850.0 L1221.4 850.6 L1222.8 851.2 L1224.1 851.8 L1225.5 852.4 L1226.9 853.0 L1228.3 853.6 L1229.7 854.1 L1231.1 854.7 L1232.5 855.2 L1233.9 855.8 L1235.3 856.3 L1236.7 856.9 L1238.1 857.4 L1239.5 857.9 L1240.9 858.4 L1242.3 858.9 L1243.7 859.4 L1245.1 859.9 L1246.5 860.4 L1247.9 860.9 L1249.4 861.4 L1250.8 861.9 L1252.2 862.3 L1253.6 862.8 L1255.1 863.3 L1256.5 863.7 L1257.9 864.2 L1259.3 864.6 L1260.8 865.0 L1262.2 865.5 L1263.7 865.9 L1265.1 866.3 L1266.5 866.8 L1268.0 867.2 L1269.4 867.6 L1270.9 868.0 L1272.3 868.4 L1273.7 868.8 L1275.2 869.2 L1276.6 869.6 L1278.1 870.0 L1279.5 870.4 L1281.0 870.8 L1282.4 871.1 L1283.9 871.5 L1285.3 871.9 L1286.8 872.2 L1288.2 872.6 L1289.7 873.0 L1291.2 873.3 L1292.6 873.7 L1294.1 874.0 L1295.5 874.4 L1297.0 874.7 L1298.5 875.1 L1299.9 875.4 L1301.4 875.7 L1302.8 876.1 L1304.3 876.4 L1305.8 876.7 L1307.2 877.0 L1308.7 877.4 L1310.2 877.7 L1311.6 878.0 L1312.0 878.1" stroke="#f03c3c"/>
<path d="M133.0 909.4 L134.3 908.7 L135.6 907.9 L136.9 907.2 L138.2 906.5 L139.6 905.8 L140.9 905.1 L142.2 904.4 L143.6 903.8 L144.9 903.1 L146.3 902.5 L147.6 901.9 L149.0 901.2 L150.4 900.6 L151.7 900.0 L153.1 899.4 L154.5 898.8 L155.9 898.3 L157.3 897.7 L158.7 897.2 L160.1 896.6 L161.5 896.1 L162.9 895.6 L164.3 895.1 L165.7 894.6 L167.1 894.1 L168.5 893.6 L169.9 893.1 L171.4 892.6 L172.8 892.2 L174.2 891.7 L175.6 891.3 L177.1 890.9 L178.5 890.5 L180.0 890.0 L181.4 889.6 L182.8 889.2 L184.3 888.8 L185.7 888.5 L187.2 888.1 L188.6 887.7 L190.1 887.3 L191.6 887.0 L193.0 886.6 L194.5 886.3 L195.9 885.9 L197.4 885.6 L198.9 885.3 L200.3 884.9 L201.8 884.6 L203.2 884.3 L204.7 884.0 L206.2 883.7 L207.6 883.4 L209.1 883.0 L210.6 882.7 L212.1 882.4 L213.5 882.1 L215.0 881.8 L216.5 881.6 L217.9 881.3 L219.4 881.0 L220.9 880.7 L222.4 880.4 L223.8 880.2 L225.3 879.9 L226.8 879.6 L228.3 879.4 L229.7 879.1 L231.2 878.9 L232.7 878.7 L234.2 878.4 L235.7 878.2 L237.2 878.0 L238.6 877.8 L240.1 877.6 L241.6 877.4 L243.1 877.2 L244.6 877.1 L246.1 876.9 L247.6 876.8 L249.1 876.6 L250.6 876.5 L252.1 876.4 L253.6 876.3 L255.0 876.2 L256.5 876.1 L258.0 876.0 L259.5 875.9 L261.0 875.9 L262.5 875.8 L264.0 875.8 L265.5 875.8 L267.0 875.8 L268.5 875.8 L270.0 875.8 L271.5 875.9 L273.0 875.9 L274.5 876.0 L276.0 876.1 L277.5 876.2 L279.0 876.3 L280.5 876.5 L282.0 876.6 L283.5 876.8 L285.0 877.0 L286.5 877.2 L288.0 877.4 L289.4 877.6 L290.9 877.9 L292.4 878.1 L293.9 878.4 L295.4 878.7 L296.8 878.9 L298.3 879.2 L299.8 879.4 L301.3 879.6 L302.8 879.8 L304.3 880.0 L305.7 880.2 L307.2 880.3 L308.7 880.4 L310.2 880.4 L311.7 880.4 L313.2 880.3 L314.7 880.2 L316.2 880.1 L317.7 880.0 L319.2 879.8 L320.7 879.6 L322.2 879.3 L323.7 879.1 L325.1 878.8 L326.6 878.6 L328.1 878.3 L329.6 878.0 L331.0 877.7 L332.5 877.5 L334.0 877.2 L335.5 877.0 L336.9 876.7 L338.4 876.5 L339.9 876.3 L341.4 876.1 L342.9 875.9 L344.4 875.8 L345.9 875.7 L347.4 875.6 L348.9 875.5 L350.4 875.5 L351.9 875.5 L353.4 875.6 L354.9 875.6 L356.4 875.7 L357.9 875.8 L359.4 875.9 L360.9 876.0 L362.3 876.2 L363.8 876.4 L365.3 876.5 L366.8 876.7 L368.3 876.9 L369.8 877.1 L371.3 877.4 L372.8 877.6 L374.2 877.8 L375.7 878.0 L377.2 878.3 L378.7 878.5 L380.2 878.7 L381.7 878.9 L383.1 879.1 L384.6 879.3 L386.1 879.5 L387.6 879.8 L389.1 880.0 L390.6 880.1 L392.1 880.3 L393.5 880.5 L395.0 880.7 L396.5 880.9 L398.0 881.1 L399.5 881.3 L401.0 881.5 L402.5 881.6 L404.0 881.8 L405.5 882.0 L406.9 882.2 L408.4 882.3 L409.9 882.5 L411.4 882.7 L412.9 882.9 L414.4 883.0 L415.9 883.2 L417.4 883.4 L418.9 883.6 L420.4 883.7 L421.8 883.9 L423.3 884.1 L424.8 884.3 L426.3 884.4 L427.8 884.6 L429.3 884.8 L430.8 885.0 L432.3 885.2 L433.8 885.3 L435.2 885.5 L436.7 885.7 L438.2 885.9 L439.7 886.1 L441.2 886.3 L442.7 886.5 L444.2 886.7 L445.7 886.9 L447.1 887.1 L448.6 887.3 L450.1 887.5 L451.6 887.8 L453.1 888.0 L454.6 888.2 L456.1 888.4 L457.5 888.6 L459.0 888.8 L460.5 889.0 L462.0 889.2 L463.5 889.4 L465.0 889.5 L466.5 889.7 L468.0 889.9 L469.4 890.1 L470.9 890.3 L472.4 890.4 L473.9 890.6 L475.4 890.7 L476.9 890.9 L478.4 891.0 L479.9 891.1 L481.4 891.2 L482.9 891.4 L484.4 891.5 L485.9 891.6 L487.4 891.6 L488.9 891.7 L490.4 891.8 L491.9 891.8 L493.4 891.9 L494.9 891.9 L496.4 892.0 L497.9 892.0 L499.4 892.1 L500.9 892.1 L502.4 892.1 L503.9 892.1 L505.4 892.1 L506.9 892.1 L508.4 892.1 L509.9 892.1 L511.4 892.1 L512.9 892.0 L514.4 892.0 L515.9 892.0 L517.4 891.9 L518.9 891.9 L520.4 891.8 L521.9 891.8 L523.4 891.7 L524.9 891.7 L526.4 891.6 L527.9 891.6 L529.4 891.5 L530.9 891.4 L532.4 891.3 L533.8 891.3 L535.3 891.2 L536.8 891.1 L538.3 891.0 L539.8 890.9 L541.3 890.9 L542.8 890.8 L544.3 890.7 L545.8 890.6 L547.3 890.5 L548.8 890.4 L550.3 890.3 L551.8 890.2 L553.3 890.1 L554.8 890.0 L556.3 889.8 L557.8 889.7 L559.3 889.6 L560.8 889.4 L562.3 889.3 L563.8 889.2 L565.3 889.0 L566.8 888.8 L568.2 888.7 L569.7 888.5 L571.2 888.3 L572.7 888.1 L574.2 887.9 L575.7 887.7 L577.2 887.5 L578.7 887.3 L580.1 887.1 L581.6 886.8 L583.1 886.6 L584.6 886.3 L586.1 886.0 L587.5 885.8 L589.0 885.5 L590.5 885.2 L591.9 884.9 L593.4 884.5 L594.9 884.2 L596.3 883.9 L597.8 883.5 L599.3 883.2 L600.7 882.8 L602.2 882.5 L603.6 882.1 L605.1 881.7 L606.5 881.3 L608.0 880.9 L609.4 880.5 L610.9 880.1 L612.3 879.7 L613.7 879.3 L615.2 878.8 L616.6 878.4 L618.0 877.9 L619.5 877.5 L620.9 877.0 L622.3 876.5 L623.7 876.0 L625.2 875.5 L626.6 875.0 L628.0 874.5 L629.4 874.0 L630.8 873.5 L632.2 872.9 L633.6 872.4 L635.0 871.8 L636.4 871.2 L637.8 870.7 L639.2 870.1 L640.5 869.5 L641.9 868.9 L643.3 868.3 L644.6 867.6 L646.0 867.0 L647.4 866.3 L648.7 865.7 L650.1 865.0 L651.4 864.3 L652.7 863.6 L654.1 862.9 L655.4 862.2 L656.7 861.5 L658.0 860.8 L659.3 860.0 L660.6 859.3 L661.9 858.5 L663.2 857.7 L664.5 856.9 L665.7 856.1 L667.0 855.3 L668.2 854.4 L669.5 853.6 L670.7 852.7 L671.9 851.8 L673.2 851.0 L674.4 850.1 L675.6 849.2 L676.8 848.2 L678.0 847.3 L679.1 846.4 L680.3 845.4 L681.4 844.4 L682.6 843.5 L683.7 842.5 L684.8 841.5 L686.0 840.4 L687.1 839.4 L688.1 838.4 L689.2 837.3 L690.3 836.2 L691.3 835.1 L692.4 834.0 L693.4 832.9 L694.4 831.8 L695.4 830.7 L696.4 829.5 L697.3 828.3 L698.3 827.2 L699.2 826.0 L700.1 824.8 L701.0 823.6 L701.9 822.4 L702.8 821.1 L703.7 819.9 L704.5 818.6 L705.4 817.4 L706.2 816.1 L707.0 814.9 L707.8 813.6 L708.6 812.3 L709.4 811.0 L710.2 809.7 L711.0 808.4 L711.7 807.1 L712.5 805.8 L713.2 804.5 L713.9 803.2 L714.7 801.9 L715.4 800.5 L716.1 799.2 L716.8 797.9 L717.5 796.5 L718.2 795.2 L718.8 793.8 L719.5 792.5 L720.2 791.1 L720.8 789.8 L721.5 788.4 L722.1 787.1 L722.8 785.7 L723.4 784.3 L724.1 783.0 L724.7 781.6 L725.3 780.2 L725.9 778.8 L726.5 777.5 L727.1 776.1 L727.7 774.7 L728.3 773.3 L728.9 771.9 L729.5 770.6 L730.1 769.2 L730.7 767.8 L731.2 766.4 L731.8 765.0 L732.4 763.6 L732.9 762.2 L733.5 760.8 L734.0 759.4 L734.6 758.0 L735.1 756.6 L735.7 755.2 L736.2 753.8 L736.7 752.4 L737.3 751.0 L737.8 749.5 L738.3 748.1 L738.8 746.7 L739.3 745.3 L739.8 743.9 L740.4 742.5 L740.9 741.1 L741.4 739.6 L741.9 738.2 L742.4 736.8 L742.8 735.4 L743.3 733.9 L743.8 732.5 L744.3 731.1 L744.8 729.7 L745.3 728.2 L745.7 726.8 L746.2 725.4 L746.7 724.0 L747.1 722.5 L747.6 721.1 L748.1 719.7 L748.5 718.2 L749.0 716.8 L749.4 715.4 L749.9 713.9 L750.3 712.5 L750.8 711.1 L751.2 709.6 L751.6 708.2 L752.1 706.7 L752.5 705.3 L753.0 703.9 L753.4 702.4 L753.8 701.0 L754.2 699.5 L754.7 698.1 L755.1 696.7 L755.5 695.2 L755.9 693.8 L756.3 692.3 L756.8 690.9 L757.2 689.4 L757.6 688.0 L758.0 686.5 L758.4 685.1 L758.8 683.6 L759.2 682.2 L759.6 680.7 L760.0 679.3 L760.4 677.8 L760.8 676.4 L761.2 674.9 L761.6 673.5 L762.0 672.0 L762.4 670.6 L762.7 669.1 L763.1 667.7 L763.5 666.2 L763.9 664.8 L764.3 663.3 L764.7 661.9 L765.0 660.4 L765.4 659.0 L765.8 657.5 L766.2 656.0 L766.5 654.6 L766.9 653.1 L767.3 651.7 L767.6 650.2 L768.0 648.8 L768.4 647.3 L768.7 645.8 L769.1 644.4 L769.5 642.9 L769.8 641.5 L770.2 640.0 L770.5 638.6 L770.9 637.1 L771.2 635.6 L771.6 634.2 L771.9 632.7 L772.3 631.2 L772.7 629.8 L773.0 628.3 L773.3 626.9 L773.7 625.4 L774.0 623.9 L774.4 622.5 L774.7 621.0 L775.1 619.6 L775.4 618.1 L775.8 616.6 L776.1 615.2 L776.4 613.7 L776.8 612.2 L777.1 610.8 L777.4 609.3 L777.8 607.8 L778.1 606.4 L778.4 604.9 L778.8 603.5 L779.1 602.0 L779.4 600.5 L779.8 599.1 L780.1 597.6 L780.4 596.1 L780.7 594.7 L781.1 593.2 L781.4 591.7 L781.7 590.3 L782.0 588.8 L782.4 587.3 L782.7 585.9 L783.0 584.4 L783.3 582.9 L783.7 581.5 L784.0 580.0 L784.3 578.5 L784.6 577.1 L784.9 575.6 L785.2 574.1 L785.6 572.6 L785.9 571.2 L786.2 569.7 L786.5 568.2 L786.8 566.8 L787.1 565.3 L787.4 563.8 L787.7 562.4 L788.0 560.9 L788.4 559.4 L788.7 558.0 L789.0 556.5 L789.3 555.0 L789.6 553.5 L789.9 552.1 L790.2 550.6 L790.5 549.1 L790.8 547.7 L791.1 546.2 L791.4 544.7 L791.7 543.3 L792.0 541.8 L792.3 540.3 L792.6 538.8 L792.9 537.4 L793.2 535.9 L793.5 534.4 L793.8 533.0 L794.1 531.5 L794.4 530.0 L794.7 528.5 L795.0 527.1 L795.3 525.6 L795.6 524.1 L795.9 522.7 L796.2 521.2 L796.5 519.7 L796.8 518.2 L797.1 516.8 L797.4 515.3 L797.7 513.8 L797.9 512.4 L798.2 510.9 L798.5 509.4 L798.8 507.9 L799.1 506.5 L799.4 505.0 L799.7 503.5 L800.0 502.0 L800.3 500.6 L800.6 499.1 L800.9 497.6 L801.1 496.2 L801.4 494.7 L801.7 493.2 L802.0 491.7 L802.3 490.3 L802.6 488.8 L802.9 487.3 L803.1 485.8 L803.4 484.4 L803.7 482.9 L804.0 481.4 L804.3 479.9 L804.6 478.5 L804.9 477.0 L805.1 475.5 L805.4 474.1 L805.7 472.6 L806.0 471.1 L806.3 469.6 L806.6 468.2 L806.8 466.7 L807.1 465.2 L807.4 463.7 L807.7 462.3 L808.0 460.8 L808.2 459.3 L808.5 457.8 L808.8 456.4 L809.1 454.9 L809.4 453.4 L809.7 451.9 L809.9 450.5 L810.2 449.0 L810.5 447.5 L810.8 446.1 L811.1 444.6 L811.3 443.1 L811.6 441.6 L811.9 440.2 L812.2 438.7 L812.4 437.2 L812.7 435.7 L813.0 434.3 L813.3 432.8 L813.6 431.3 L813.8 429.8 L814.1 428.4 L814.4 426.9 L814.7 425.4 L815.0 423.9 L815.2 422.5 L815.5 421.0 L815.8 419.5 L816.1 418.0 L816.3 416.6 L816.6 415.1 L816.9 413.6 L817.2 412.1 L817.4 410.7 L817.7 409.2 L818.0 407.7 L818.3 406.2 L818.6 404.8 L818.8 403.3 L819.1 401.8 L819.4 400.3 L819.7 398.9 L819.9 397.4 L820.2 395.9 L820.5 394.5 L820.8 393.0 L821.0 391.5 L821.3 390.0 L821.6 388.6 L821.9 387.1 L822.2 385.6 L822.4 384.1 L822.7 382.7 L823.0 381.2 L823.3 379.7 L823.5 378.2 L823.8 376.8 L824.1 375.3 L824.4 373.8 L824.7 372.3 L824.9 370.9 L825.2 369.4 L825.5 367.9 L825.8 366.4 L826.0 365.0 L826.3 363.5 L826.6 362.0 L826.9 360.6 L827.2 359.1 L827.4 357.6 L827.7 356.1 L828.0 354.7 L828.3 353.2 L828.6 351.7 L828.8 350.2 L829.1 348.8 L829.4 347.3 L829.7 345.8 L830.0 344.4 L830.2 342.9 L830.5 341.4 L830.8 339.9 L831.1 338.5 L831.4 337.0 L831.7 335.5 L831.9 334.0 L832.2 332.6 L832.5 331.1 L832.8 329.6 L833.1 328.2 L833.4 326.7 L833.6 325.2 L833.9 323.7 L834.2 322.3 L834.5 320.8 L834.8 319.3 L835.1 317.9 L835.4 316.4 L835.6 314.9 L835.9 313.4 L836.2 312.0 L836.5 310.5 L836.8 309.0 L837.1 307.6 L837.4 306.1 L837.7 304.6 L838.0 303.1 L838.3 301.7 L838.5 300.2 L838.8 298.7 L839.1 297.3 L839.4 295.8 L839.7 294.3 L840.0 292.9 L840.3 291.4 L840.6 289.9 L840.9 288.4 L841.2 287.0 L841.5 285.5 L841.8 284.0 L842.1 282.6 L842.4 281.1 L842.7 279.6 L843.0 278.2 L843.3 276.7 L843.6 275.2 L843.9 273.8 L844.2 272.3 L844.5 270.8 L844.8 269.4 L845.1 267.9 L845.4 266.4 L845.7 265.0 L846.0 263.5 L846.3 262.0 L846.6 260.6 L847.0 259.1 L847.3 257.6 L847.6 256.2 L847.9 254.7 L848.2 253.2 L848.5 251.8 L848.8 250.3 L849.1 248.9 L849.5 247.4 L849.8 245.9 L850.1 244.5 L850.4 243.0 L850.7 241.5 L851.1 240.1 L851.4 238.6 L851.7 237.2 L852.0 235.7 L852.4 234.2 L852.7 232.8 L853.0 231.3 L853.4 229.8 L853.7 228.4 L854.0 226.9 L854.4 225.5 L854.7 224.0 L855.0 222.6 L855.4 221.1 L855.7 219.6 L856.1 218.2 L856.4 216.7 L856.8 215.3 L857.1 213.8 L857.5 212.4 L857.8 210.9 L858.2 209.5 L858.5 208.0 L858.9 206.5 L859.2 205.1 L859.6 203.6 L860.0 202.2 L860.3 200.7 L860.7 199.3 L861.1 197.8 L861.4 196.4 L861.8 195.0 L862.2 193.5 L862.6 192.1 L863.0 190.6 L863.3 189.2 L863.7 187.7 L864.1 186.3 L864.5 184.8 L864.9 183.4 L865.3 182.0 L865.7 180.5 L866.1 179.1 L866.5 177.6 L866.9 176.2 L867.4 174.8 L867.8 173.3 L868.2 171.9 L868.6 170.5 L869.1 169.1 L869.5 167.6 L869.9 166.2 L870.4 164.8 L870.8 163.4 L871.3 161.9 L871.8 160.5 L872.2 159.1 L872.7 157.7 L873.2 156.3 L873.7 154.9 L874.2 153.5 L874.7 152.1 L875.2 150.7 L875.7 149.3 L876.2 147.9 L876.7 146.5 L877.3 145.1 L877.8 143.7 L878.4 142.3 L879.0 141.0 L879.5 139.6 L880.1 138.2 L880.7 136.9 L881.4 135.5 L882.0 134.2 L882.6 132.9 L883.3 131.6 L884.0 130.3 L884.7 129.0 L885.4 127.7 L886.2 126.4 L887.0 125.2 L887.8 123.9 L888.6 122.7 L889.5 121.6 L890.5 120.4 L891.4 119.4 L892.5 118.3 L893.6 117.4 L894.7 116.5 L895.9 115.7 L897.2 115.1 L898.6 114.6 L900.1 114.4 L901.6 114.3 L903.1 114.5 L904.5 114.9 L906.0 115.4 L907.4 116.1 L908.7 116.9 L909.9 117.8 L911.1 118.8 L912.2 119.8 L913.3 120.9 L914.4 122.0 L915.4 123.2 L916.3 124.4 L917.2 125.6 L918.1 126.8 L919.0 128.1 L919.8 129.4 L920.7 130.6 L921.4 131.9 L922.2 133.2 L923.0 134.6 L923.7 135.9 L924.4 137.2 L925.1 138.6 L925.8 139.9 L926.5 141.3 L927.1 142.6 L927.8 144.0 L928.4 145.4 L929.0 146.8 L929.7 148.1 L930.3 149.5 L930.9 150.9 L931.5 152.3 L932.0 153.7 L932.6 155.1 L933.2 156.5 L933.7 157.9 L934.3 159.3 L934.8 160.7 L935.4 162.1 L935.9 163.5 L936.4 164.9 L937.0 166.3 L937.5 167.8 L938.0 169.2 L938.5 170.6 L939.0 172.0 L939.5 173.4 L940.0 174.9 L940.5 176.3 L941.0 177.7 L941.5 179.1 L941.9 180.6 L942.4 182.0 L942.9 183.4 L943.4 184.8 L943.8 186.3 L944.3 187.7 L944.8 189.1 L945.2 190.6 L945.7 192.0 L946.1 193.5 L946.6 194.9 L947.0 196.3 L947.5 197.8 L947.9 199.2 L948.3 200.6 L948.8 202.1 L949.2 203.5 L949.6 205.0 L950.1 206.4 L950.5 207.8 L950.9 209.3 L951.3 210.7 L951.8 212.2 L952.2 213.6 L952.6 215.1 L953.0 216.5 L953.4 217.9 L953.8 219.4 L954.2 220.8 L954.7 222.3 L955.1 223.7 L955.5 225.2 L955.9 226.6 L956.3 228.1 L956.7 229.5 L957.1 231.0 L957.5 232.4 L957.9 233.9 L958.3 235.3 L958.7 236.8 L959.1 238.2 L959.4 239.7 L959.8 241.1 L960.2 242.6 L960.6 244.0 L961.0 245.5 L961.4 246.9 L961.8 248.4 L962.2 249.8 L962.5 251.3 L962.9 252.7 L963.3 254.2 L963.7 255.6 L964.1 257.1 L964.5 258.5 L964.8 260.0 L965.2 261.4 L965.6 262.9 L966.0 264.3 L966.3 265.8 L966.7 267.3 L967.1 268.7 L967.5 270.2 L967.8 271.6 L968.2 273.1 L968.6 274.5 L968.9 276.0 L969.3 277.4 L969.7 278.9 L970.1 280.3 L970.4 281.8 L970.8 283.3 L971.2 284.7 L971.5 286.2 L971.9 287.6 L972.3 289.1 L972.6 290.5 L973.0 292.0 L973.4 293.5 L973.7 294.9 L974.1 296.4 L974.4 297.8 L974.8 299.3 L975.2 300.7 L975.5 302.2 L975.9 303.6 L976.2 305.1 L976.6 306.6 L977.0 308.0 L977.3 309.5 L977.7 310.9 L978.0 312.4 L978.4 313.8 L978.8 315.3 L979.1 316.8 L979.5 318.2 L979.8 319.7 L980.2 321.1 L980.6 322.6 L980.9 324.0 L981.3 325.5 L981.6 327.0 L982.0 328.4 L982.3 329.9 L982.7 331.3 L983.1 332.8 L983.4 334.2 L983.8 335.7 L984.1 337.2 L984.5 338.6 L984.8 340.1 L985.2 341.5 L985.5 343.0 L985.9 344.4 L986.3 345.9 L986.6 347.4 L987.0 348.8 L987.3 350.3 L987.7 351.7 L988.0 353.2 L988.4 354.6 L988.7 356.1 L989.1 357.6 L989.5 359.0 L989.8 360.5 L990.2 361.9 L990.5 363.4 L990.9 364.9 L991.2 366.3 L991.6 367.8 L991.9 369.2 L992.3 370.7 L992.6 372.1 L993.0 373.6 L993.4 375.1 L993.7 376.5 L994.1 378.0 L994.4 379.4 L994.8 380.9 L995.1 382.3 L995.5 383.8 L995.8 385.2 L996.2 386.7 L996.6 388.2 L996.9 389.6 L997.3 391.1 L997.6 392.5 L998.0 394.0 L998.3 395.4 L998.7 396.9 L999.1 398.4 L999.4 399.8 L999.8 401.3 L1000.1 402.7 L1000.5 404.2 L1000.9 405.6 L1001.2 407.1 L1001.6 408.6 L1001.9 410.0 L1002.3 411.5 L1002.7 412.9 L1003.0 414.4 L1003.4 415.8 L1003.7 417.3 L1004.1 418.7 L1004.5 420.2 L1004.8 421.6 L1005.2 423.1 L1005.5 424.6 L1005.9 426.0 L1006.3 427.5 L1006.6 428.9 L1007.0 430.4 L1007.4 431.8 L1007.7 433.3 L1008.1 434.7 L1008.5 436.2 L1008.8 437.6 L1009.2 439.1 L1009.6 440.6 L1009.9 442.0 L1010.3 443.5 L1010.7 444.9 L1011.0 446.4 L1011.4 447.8 L1011.8 449.3 L1012.1 450.7 L1012.5 452.2 L1012.9 453.6 L1013.2 455.1 L1013.6 456.5 L1014.0 458.0 L1014.4 459.4 L1014.7 460.9 L1015.1 462.3 L1015.5 463.8 L1015.8 465.3 L1016.2 466.7 L1016.6 468.2 L1017.0 469.6 L1017.3 471.1 L1017.7 472.5 L1018.1 474.0 L1018.5 475.4 L1018.9 476.9 L1019.2 478.3 L1019.6 479.8 L1020.0 481.2 L1020.4 482.7 L1020.8 484.1 L1021.1 485.6 L1021.5 487.0 L1021.9 488.5 L1022.3 489.9 L1022.7 491.4 L1023.1 492.8 L1023.4 494.2 L1023.8 495.7 L1024.2 497.1 L1024.6 498.6 L1025.0 500.0 L1025.4 501.5 L1025.8 502.9 L1026.2 504.4 L1026.6 505.8 L1026.9 507.3 L1027.3 508.7 L1027.7 510.2 L1028.1 511.6 L1028.5 513.1 L1028.9 514.5 L1029.3 515.9 L1029.7 517.4 L1030.1 518.8 L1030.5 520.3 L1030.9 521.7 L1031.3 523.2 L1031.7 524.6 L1032.1 526.1 L1032.5 527.5 L1032.9 528.9 L1033.3 530.4 L1033.7 531.8 L1034.1 533.3 L1034.5 534.7 L1035.0 536.2 L1035.4 537.6 L1035.8 539.0 L1036.2 540.5 L1036.6 541.9 L1037.0 543.4 L1037.4 544.8 L1037.8 546.2 L1038.3 547.7 L1038.7 549.1 L1039.1 550.6 L1039.5 552.0 L1039.9 553.4 L1040.4 554.9 L1040.8 556.3 L1041.2 557.7 L1041.6 559.2 L1042.1 560.6 L1042.5 562.0 L1042.9 563.5 L1043.3 564.9 L1043.8 566.4 L1044.2 567.8 L1044.6 569.2 L1045.1 570.7 L1045.5 572.1 L1045.9 573.5 L1046.4 575.0 L1046.8 576.4 L1047.2 577.8 L1047.7 579.3 L1048.1 580.7 L1048.6 582.1 L1049.0 583.5 L1049.5 585.0 L1049.9 586.4 L1050.4 587.8 L1050.8 589.3 L1051.3 590.7 L1051.7 592.1 L1052.2 593.5 L1052.6 595.0 L1053.1 596.4 L1053.5 597.8 L1054.0 599.3 L1054.5 600.7 L1054.9 602.1 L1055.4 603.5 L1055.8 604.9 L1056.3 606.4 L1056.8 607.8 L1057.3 609.2 L1057.7 610.6 L1058.2 612.1 L1058.7 613.5 L1059.1 614.9 L1059.6 616.3 L1060.1 617.7 L1060.6 619.2 L1061.1 620.6 L1061.6 622.0 L1062.0 623.4 L1062.5 624.8 L1063.0 626.2 L1063.5 627.6 L1064.0 629.1 L1064.5 630.5 L1065.0 631.9 L1065.5 633.3 L1066.0 634.7 L1066.5 636.1 L1067.0 637.5 L1067.5 638.9 L1068.0 640.3 L1068.5 641.8 L1069.0 643.2 L1069.6 644.6 L1070.1 646.0 L1070.6 647.4 L1071.1 648.8 L1071.6 650.2 L1072.2 651.6 L1072.7 653.0 L1073.2 654.4 L1073.8 655.8 L1074.3 657.2 L1074.8 658.6 L1075.4 660.0 L1075.9 661.4 L1076.4 662.8 L1077.0 664.2 L1077.5 665.5 L1078.1 666.9 L1078.6 668.3 L1079.2 669.7 L1079.8 671.1 L1080.3 672.5 L1080.9 673.9 L1081.4 675.3 L1082.0 676.7 L1082.6 678.0 L1083.2 679.4 L1083.7 680.8 L1084.3 682.2 L1084.9 683.6 L1085.5 684.9 L1086.1 686.3 L1086.7 687.7 L1087.2 689.1 L1087.8 690.4 L1088.4 691.8 L1089.0 693.2 L1089.7 694.5 L1090.3 695.9 L1090.9 697.3 L1091.5 698.6 L1092.1 700.0 L1092.7 701.4 L1093.4 702.7 L1094.0 704.1 L1094.6 705.4 L1095.2 706.8 L1095.9 708.1 L1096.5 709.5 L1097.2 710.8 L1097.8 712.2 L1098.5 713.5 L1099.1 714.9 L1099.8 716.2 L1100.4 717.6 L1101.1 718.9 L1101.8 720.2 L1102.5 721.6 L1103.1 722.9 L1103.8 724.2 L1104.5 725.6 L1105.2 726.9 L1105.9 728.2 L1106.6 729.5 L1107.3 730.9 L1108.0 732.2 L1108.7 733.5 L1109.4 734.8 L1110.2 736.1 L1110.9 737.4 L1111.6 738.7 L1112.3 740.0 L1113.1 741.3 L1113.8 742.6 L1114.6 743.9 L1115.3 745.2 L1116.1 746.5 L1116.9 747.8 L1117.6 749.1 L1118.4 750.3 L1119.2 751.6 L1120.0 752.9 L1120.7 754.2 L1121.5 755.4 L1122.3 756.7 L1123.1 758.0 L1124.0 759.2 L1124.8 760.5 L1125.6 761.7 L1126.4 763.0 L1127.3 764.2 L1128.1 765.4 L1128.9 766.7 L1129.8 767.9 L1130.6 769.1 L1131.5 770.4 L1132.4 771.6 L1133.2 772.8 L1134.1 774.0 L1135.0 775.2 L1135.9 776.4 L1136.8 777.6 L1137.7 778.8 L1138.6 780.0 L1139.5 781.1 L1140.5 782.3 L1141.4 783.5 L1142.3 784.6 L1143.3 785.8 L1144.2 787.0 L1145.2 788.1 L1146.2 789.2 L1147.1 790.4 L1148.1 791.5 L1149.1 792.6 L1150.1 793.8 L1151.1 794.9 L1152.1 796.0 L1153.1 797.1 L1154.1 798.2 L1155.1 799.2 L1156.2 800.3 L1157.2 801.4 L1158.3 802.5 L1159.3 803.5 L1160.4 804.6 L1161.5 805.6 L1162.5 806.7 L1163.6 807.7 L1164.7 808.7 L1165.8 809.7 L1166.9 810.7 L1168.0 811.7 L1169.2 812.7 L1170.3 813.7 L1171.4 814.7 L1172.6 815.6 L1173.7 816.6 L1174.9 817.5 L1176.0 818.5 L1177.2 819.4 L1178.4 820.3 L1179.5 821.3 L1180.7 822.2 L1181.9 823.1 L1183.1 824.0 L1184.3 824.8 L1185.6 825.7 L1186.8 826.6 L1188.0 827.4 L1189.2 828.3 L1190.5 829.1 L1191.7 829.9 L1193.0 830.8 L1194.2 831.6 L1195.5 832.4 L1196.8 833.2 L1198.1 833.9 L1199.3 834.7 L1200.6 835.5 L1201.9 836.2 L1203.2 837.0 L1204.5 837.7 L1205.8 838.4 L1207.1 839.2 L1208.5 839.9 L1209.8 840.6 L1211.1 841.3 L1212.4 842.0 L1213.8 842.6 L1215.1 843.3 L1216.5 844.0 L1217.8 844.6 L1219.2 845.3 L1220.5 845.9 L1221.9 846.5 L1223.2 847.1 L1224.6 847.8 L1226.0 848.4 L1227.3 849.0 L1228.7 849.5 L1230.1 850.1 L1231.5 850.7 L1232.9 851.3 L1234.3 851.8 L1235.7 852.4 L1237.1 852.9 L1238.5 853.4 L1239.9 854.0 L1241.3 854.5 L1242.7 855.0 L1244.1 855.5 L1245.5 856.0 L1246.9 856.5 L1248.3 857.0 L1249.7 857.5 L1251.2 858.0 L1252.6 858.4 L1254.0 858.9 L1255.4 859.4 L1256.9 859.8 L1258.3 860.3 L1259.7 860.7 L1261.2 861.2 L1262.6 861.6 L1264.0 862.0 L1265.5 862.4 L1266.9 862.9 L1268.4 863.3 L1269.8 863.7 L1271.2 864.1 L1272.7 864.5 L1274.1 864.9 L1275.6 865.3 L1277.0 865.6 L1278.5 866.0 L1279.9 866.4 L1281.4 866.8 L1282.8 867.1 L1284.3 867.5 L1285.8 867.8 L1287.2 868.2 L1288.7 868.6 L1290.1 868.9 L1291.6 869.2 L1293.0 869.6 L1294.5 869.9 L1296.0 870.3 L1297.4 870.6 L1298.9 870.9 L1300.4 871.2 L1301.8 871.6 L1303.3 871.9 L1304.8 872.2 L1306.2 872.5 L1307.7 872.8 L1309.2 873.1 L1310.6 873.4 L1312.0 873.7" stroke="#1b6fe0"/>
</g>
<!-- frame -->
<rect x="130.2" y="40.9" width="1185.8" height="6" fill="#000"/>
<rect x="130.2" y="40.9" width="5.5" height="971.7" fill="#000"/>
<rect x="1310.2" y="40.9" width="5.8" height="958.1" fill="#000"/>
<rect x="130.2" y="994" width="1185.8" height="5" fill="#000"/>
<!-- ticks -->
<rect x="130.2" y="1012.6" width="5.5" height="2.4" fill="#8a8a8a"/>
<rect x="467" y="999" width="7.9" height="13.6" fill="#000"/>
<rect x="467" y="1012.6" width="7.9" height="2.4" fill="#999"/>
<rect x="804" y="999" width="5.2" height="13.6" fill="#000"/>
<rect x="809.2" y="999" width="2.8" height="13.6" fill="#3a3a3a"/>
<rect x="804" y="1012.6" width="8" height="2.4" fill="#999"/>
<rect x="1140.3" y="999" width="5.7" height="13.6" fill="#000"/>
<rect x="1146" y="999" width="2.7" height="13.6" fill="#6a6a6a"/>
<rect x="1140.3" y="1012.6" width="8.4" height="2.4" fill="#a5a5a5"/>
<!-- tick labels -->
<g font-size="53.5" text-anchor="middle">
<text x="132.6" y="1069">400</text>
<text x="470" y="1069">500</text>
<text x="806.8" y="1069">600</text>
<text x="1143.7" y="1069">700</text>
</g>
<text x="722" y="1163" font-size="58.5" text-anchor="middle">Wavelength (nm)</text>
<text transform="translate(57.3,496.5) rotate(-90)" font-size="60" letter-spacing="-0.8" text-anchor="middle">Relative intensity</text>
<!-- legend -->
<rect x="162.6" y="92.6" width="417.2" height="2.4" fill="#6e6e6e"/>
<rect x="577.4" y="95" width="2.4" height="226" fill="#bbbbbb"/>
<rect x="168" y="127.7" width="115.8" height="5" fill="#525252"/>
<rect x="168" y="200.2" width="115.8" height="5" fill="#f03c3c"/>
<rect x="168" y="205.2" width="115.8" height="2.7" fill="#f47a7a"/>
<rect x="165" y="203" width="3" height="2.6" fill="#f03c3c"/>
<rect x="168" y="275.6" width="115.8" height="5.2" fill="#1b6fe0"/>
<rect x="168" y="273" width="115.8" height="2.6" fill="#98bdf0"/>
<rect x="165" y="276" width="3" height="2.4" fill="#a8c8f2"/>
<g font-size="49">
<text x="293.1" y="0" transform="translate(0,146) scale(1,1.055)">MOF@QD</text>
<text x="293.1" y="0" transform="translate(0,220.3) scale(1,1.055)">MOF@QD</text>
<text x="293.1" y="0" transform="translate(0,294.3) scale(1,1.055)">MOF@QD</text>
</g>
<g font-size="33" letter-spacing="0.9">
<text x="525.3" y="159.2">0.3</text>
<text x="525.3" y="233.4">0.6</text>
<text x="525.3" y="307.2">0.7</text>
</g>
</svg>
</body></html>
